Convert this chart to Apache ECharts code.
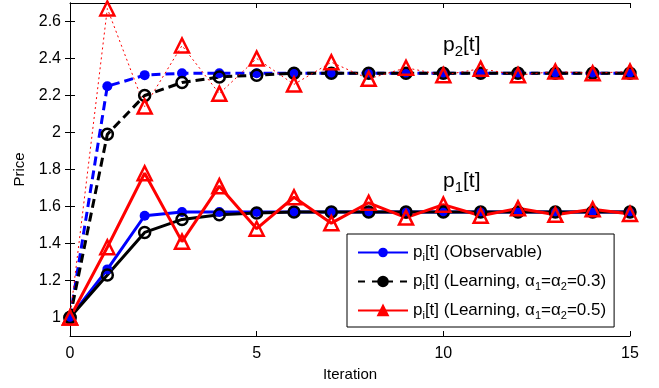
<!DOCTYPE html>
<html>
<head>
<meta charset="utf-8">
<script src="https://cdn.jsdelivr.net/npm/echarts@6/dist/echarts.min.js"></script>
<style>
  html, body { margin: 0; padding: 0; background: #fff; }
  #chart { width: 659px; height: 388px; }
</style>
</head>
<body>
<div id="chart"></div>
<script>
const iterations = [0, 1, 2, 3, 4, 5, 6, 7, 8, 9, 10, 11, 12, 13, 14, 15]

// p1[t]
const p1Observable = [1.00, 1.26, 1.55, 1.57, 1.57, 1.57, 1.57, 1.57, 1.57, 1.57, 1.57, 1.57, 1.57, 1.57, 1.57, 1.57]
const p1Learn03 = [1.00, 1.23, 1.46, 1.53, 1.555, 1.565, 1.57, 1.57, 1.57, 1.57, 1.57, 1.57, 1.57, 1.57, 1.57, 1.57]
const p1Learn05 = [1.00, 1.38, 1.78, 1.41, 1.71, 1.48, 1.65, 1.51, 1.62, 1.54, 1.61, 1.55, 1.59, 1.555, 1.585, 1.56]

// p2[t]
const p2Observable = [1.00, 2.25, 2.31, 2.32, 2.32, 2.32, 2.32, 2.32, 2.32, 2.32, 2.32, 2.32, 2.32, 2.32, 2.32, 2.32]
const p2Learn03 = [1.00, 1.99, 2.20, 2.27, 2.30, 2.31, 2.32, 2.32, 2.32, 2.32, 2.32, 2.32, 2.32, 2.32, 2.32, 2.32]
const p2Learn05 = [1.00, 2.67, 2.14, 2.47, 2.21, 2.40, 2.26, 2.38, 2.29, 2.35, 2.31, 2.345, 2.31, 2.33, 2.32, 2.33]

const yTicks = [1, 1.2, 1.4, 1.6, 1.8, 2, 2.2, 2.4, 2.6]
const xTicks = [0, 5, 10, 15]

const NAME_OBS = 'obs'
const NAME_L03 = 'l03'
const NAME_L05 = 'l05'

const FONT = 'Liberation Sans'

const pair = arr => arr.map((v, i) => [iterations[i], v])

const chart = echarts.init(document.getElementById('chart'))

const subRich = {
  n: { fontFamily: FONT, fontSize: 17, color: '#000', lineHeight: 20 },
  s: { fontFamily: FONT, fontSize: 11, color: '#000', lineHeight: 20, padding: [10, 0, 0, 0] }
}

const legendText = {
  obs: '{n|p}{s|i}{n|[t] (Observable)}',
  l03: '{n|p}{s|i}{n|[t] (Learning, α}{s|1}{n|=α}{s|2}{n|=0.3)}',
  l05: '{n|p}{s|i}{n|[t] (Learning, α}{s|1}{n|=α}{s|2}{n|=0.5)}'
}

const obsStyle = {
  symbol: 'circle',
  symbolSize: 10,
  itemStyle: { color: '#0000ff' }
}
const l03Style = {
  symbol: 'circle',
  symbolSize: 11,
  itemStyle: { color: 'rgba(0,0,0,0)', borderColor: '#000', borderWidth: 2.5 }
}
const l05Style = {
  symbol: 'triangle',
  symbolSize: 14,
  itemStyle: { color: 'rgba(0,0,0,0)', borderColor: '#ff0000', borderWidth: 2.5 }
}

const series = [
  {
    name: NAME_OBS, type: 'line', data: pair(p1Observable), ...obsStyle,
    lineStyle: { color: '#0000ff', width: 3 }
  },
  {
    name: NAME_L03, type: 'line', data: pair(p1Learn03), ...l03Style,
    lineStyle: { color: '#000', width: 3 }
  },
  {
    name: NAME_L05, type: 'line', data: pair(p1Learn05), ...l05Style,
    lineStyle: { color: '#ff0000', width: 3 }
  },
  {
    name: 'p2obs', type: 'line', data: pair(p2Observable), ...obsStyle,
    lineStyle: { color: '#0000ff', width: 3, type: [9, 5] }
  },
  {
    name: 'p2l03', type: 'line', data: pair(p2Learn03), ...l03Style,
    lineStyle: { color: '#000', width: 3, type: [9, 5] }
  },
  {
    name: 'p2l05', type: 'line', data: pair(p2Learn05), ...l05Style,
    lineStyle: { color: '#ff0000', width: 1, type: [2, 3] }
  }
]

series.forEach(s => { s.animation = false })

const option = {
  backgroundColor: '#fff',
  animation: false,
  grid: { left: 70, right: 29, top: 3, bottom: 52 },
  legend: {
    orient: 'vertical',
    left: 347,
    top: 234,
    padding: [8, 8, 6, 10],
    itemWidth: 50,
    itemHeight: 12,
    itemGap: 8,
    backgroundColor: '#fff',
    borderColor: '#000',
    borderWidth: 1,
    borderRadius: 0,
    data: [
      { name: NAME_OBS },
      { name: NAME_L03, lineStyle: { type: [7, 7] }, itemStyle: { color: '#000', borderColor: '#000' } },
      { name: NAME_L05, itemStyle: { color: '#ff0000' } }
    ],
    formatter: name => legendText[name],
    textStyle: { rich: subRich }
  },
  graphic: [
    {
      type: 'text', left: 443, top: 32,
      style: {
        text: '{n|p}{s|2}{n|[t]}',
        rich: {
          n: { fontFamily: FONT, fontSize: 21, color: '#000', lineHeight: 26 },
          s: { fontFamily: FONT, fontSize: 15, color: '#000', lineHeight: 26, padding: [12, 0, 0, 0] }
        }
      }
    },
    {
      type: 'text', left: 443, top: 168,
      style: {
        text: '{n|p}{s|1}{n|[t]}',
        rich: {
          n: { fontFamily: FONT, fontSize: 21, color: '#000', lineHeight: 26 },
          s: { fontFamily: FONT, fontSize: 15, color: '#000', lineHeight: 26, padding: [12, 0, 0, 0] }
        }
      }
    }
  ],
  xAxis: [
    {
      type: 'value',
      min: 0,
      max: 15,
      interval: 5,
      name: 'Iteration',
      nameLocation: 'middle',
      nameGap: 29,
      nameTextStyle: { fontFamily: FONT, fontSize: 15, color: '#000' },
      axisLine: { lineStyle: { color: '#000', width: 1 } },
      axisTick: { inside: true, length: 5, lineStyle: { color: '#000' } },
      axisLabel: { fontFamily: FONT, fontSize: 16, color: '#000', margin: 10, customValues: xTicks },
      splitLine: { show: false }
    },
    {
      type: 'value',
      position: 'top',
      min: 0,
      max: 15,
      interval: 5,
      axisLine: { lineStyle: { color: '#000', width: 1 } },
      axisTick: { inside: true, length: 5, lineStyle: { color: '#000' } },
      axisLabel: { show: false },
      splitLine: { show: false }
    }
  ],
  yAxis: [
    {
      type: 'value',
      min: 0.9,
      max: 2.7,
      name: 'Price',
      nameLocation: 'middle',
      nameGap: 33,
      nameTextStyle: { fontFamily: FONT, fontSize: 15, color: '#000' },
      axisLine: { show: true, lineStyle: { color: '#000', width: 1 } },
      axisTick: { show: true, inside: true, length: 5, customValues: yTicks, lineStyle: { color: '#000' } },
      axisLabel: {
        fontFamily: FONT, fontSize: 16, color: '#000', margin: 9,
        customValues: yTicks,
        formatter: v => String(Math.round(v * 10) / 10)
      },
      splitLine: { show: false }
    },
    {
      type: 'value',
      position: 'right',
      min: 0.9,
      max: 2.7,
      axisLine: { show: true, lineStyle: { color: '#000', width: 1 } },
      axisTick: { show: true, inside: true, length: 5, customValues: yTicks, lineStyle: { color: '#000' } },
      axisLabel: { show: false, customValues: yTicks },
      splitLine: { show: false }
    }
  ],
  series
}

chart.setOption(option)

window.addEventListener('resize', () => chart.resize())
</script>
</body>
</html>
